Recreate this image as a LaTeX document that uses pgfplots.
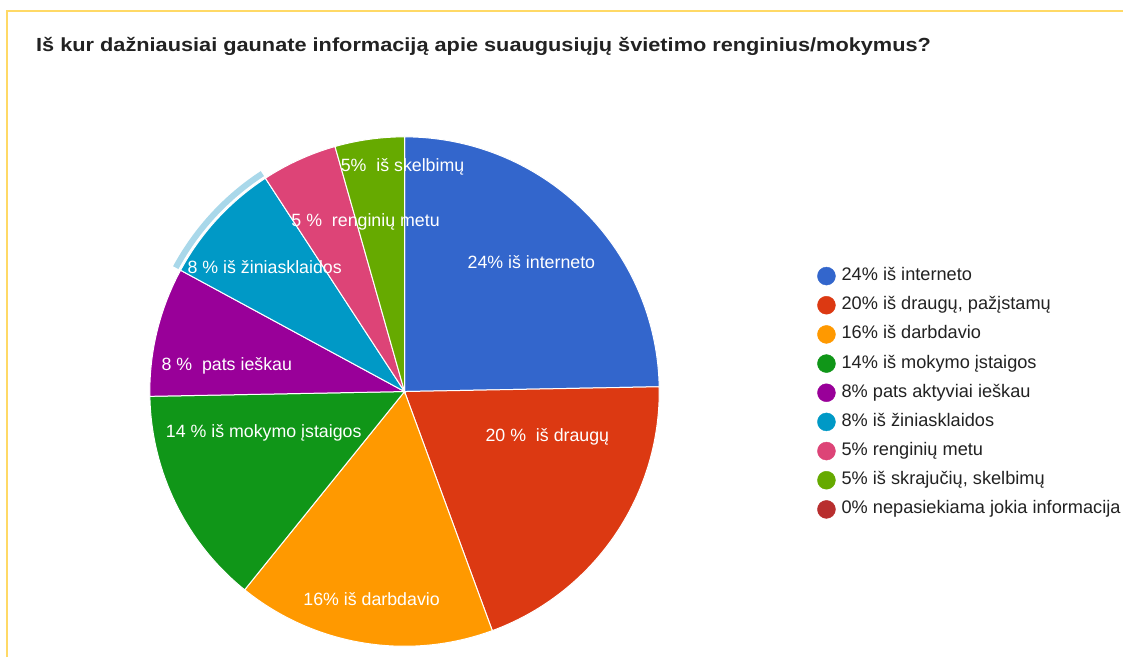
\documentclass[border=0pt]{standalone}
\usepackage{fontspec}
\setmainfont{Liberation Sans}
\usepackage{pgfplots}
\pgfplotsset{compat=1.18}
\definecolor{gblue}{HTML}{3366CC}
\definecolor{gred}{HTML}{DC3912}
\definecolor{gorange}{HTML}{FF9900}
\definecolor{ggreen}{HTML}{109618}
\definecolor{gpurple}{HTML}{990099}
\definecolor{gcyan}{HTML}{0099C6}
\definecolor{gpink}{HTML}{DD4477}
\definecolor{glime}{HTML}{66AA00}
\definecolor{gdred}{HTML}{B82E2E}
\definecolor{hl}{HTML}{A9D8EA}
\definecolor{framecol}{HTML}{FFD966}
\definecolor{txt}{HTML}{222222}
% slice shares (percent of the circle), clockwise from 12 o'clock
\def\piedata{{24.7,19.7,16.4,13.9,8.2,7.9,4.8,4.4}}
\begin{document}
\begin{tikzpicture}
\begin{axis}[
  width=1124pt, height=658pt, scale only axis,
  xmin=0, xmax=1124, ymin=0, ymax=658,
  hide axis, clip=false,
  legend cell align=left,
  legend style={at={(axis cs:815,393)}, anchor=north west, draw=none, fill=none,
    font=\fontsize{18.2}{21}\selectfont, text=txt,
    nodes={inner sep=0pt, text height=12.5pt, text depth=3.5pt},
    row sep=10.8pt, column sep=0pt},
]
\fill[white] (axis cs:0,0) rectangle (axis cs:1124,658);
\draw[framecol, line width=2.6pt] (axis cs:7,0) -- (axis cs:7,647) -- (axis cs:1124,647);
\pgfmathsetmacro\cum{0}
\pgfplotsforeachungrouped \i in {0,...,7}{
  \pgfmathsetmacro\p{\piedata[\i]}
  \pgfmathsetmacro\aS{90-3.6*\cum}
  \pgfmathsetmacro\cum{\cum+\p}
  \pgfmathsetmacro\aE{90-3.6*\cum}
  \edef\c{\ifcase\i gblue\or gred\or gorange\or ggreen\or gpurple\or gcyan\or gpink\or glime\fi}
  \ifnum\i=5 \let\hS\aS \let\hE\aE \fi
  \edef\doit{\noexpand\addplot[fill=\c, draw=white, line width=1pt, domain=\aE:\aS, samples=80, forget plot]
    ({405+255*cos(x)},{266+255*sin(x)}) -- (axis cs:405,266) -- cycle;}
  \doit
}
\edef\doit{\noexpand\addplot[hl, line width=6pt, domain=\hE:\hS, samples=40, forget plot]
    ({405+260.5*cos(x)},{266+260.5*sin(x)});}
\doit
\addlegendimage{legend image code/.code={\fill[gblue] (9pt,0pt) circle (9pt); \path (0pt,-9pt) (24pt,9pt);}}
\addlegendentry{24\% iš interneto}
\addlegendimage{legend image code/.code={\fill[gred] (9pt,0pt) circle (9pt); \path (0pt,-9pt) (24pt,9pt);}}
\addlegendentry{20\% iš draugų, pažįstamų}
\addlegendimage{legend image code/.code={\fill[gorange] (9pt,0pt) circle (9pt); \path (0pt,-9pt) (24pt,9pt);}}
\addlegendentry{16\% iš darbdavio}
\addlegendimage{legend image code/.code={\fill[ggreen] (9pt,0pt) circle (9pt); \path (0pt,-9pt) (24pt,9pt);}}
\addlegendentry{14\% iš mokymo įstaigos}
\addlegendimage{legend image code/.code={\fill[gpurple] (9pt,0pt) circle (9pt); \path (0pt,-9pt) (24pt,9pt);}}
\addlegendentry{8\% pats aktyviai ieškau}
\addlegendimage{legend image code/.code={\fill[gcyan] (9pt,0pt) circle (9pt); \path (0pt,-9pt) (24pt,9pt);}}
\addlegendentry{8\% iš žiniasklaidos}
\addlegendimage{legend image code/.code={\fill[gpink] (9pt,0pt) circle (9pt); \path (0pt,-9pt) (24pt,9pt);}}
\addlegendentry{5\% renginių metu}
\addlegendimage{legend image code/.code={\fill[glime] (9pt,0pt) circle (9pt); \path (0pt,-9pt) (24pt,9pt);}}
\addlegendentry{5\% iš skrajučių, skelbimų}
\addlegendimage{legend image code/.code={\fill[gdred] (9pt,0pt) circle (9pt); \path (0pt,-9pt) (24pt,9pt);}}
\addlegendentry{0\% nepasiekiama jokia informacija}
\begin{scope}[every node/.style={text=white, font=\fontsize{17.8}{21}\selectfont}]
\node at (axis cs:532,396) {24\% iš interneto};
\node at (axis cs:548,221) {20~\%~ iš draugų};
\node at (axis cs:372,58) {16\% iš darbdavio};
\node at (axis cs:264,225) {14~\% iš mokymo įstaigos};
\node at (axis cs:227,292) {8~\%~ pats ieškau};
\node at (axis cs:265,391) {8~\% iš žiniasklaidos};
\node at (axis cs:366,436) {5~\%~ renginių metu};
\node at (axis cs:403,491) {5\%~ iš skelbimų};
\end{scope}
\node[anchor=west, text=txt, font=\bfseries\fontsize{19}{22}\selectfont, inner sep=0pt] at (axis cs:36,612)
  {\scalebox{1.145}[1]{Iš kur dažniausiai gaunate informaciją apie suaugusiųjų švietimo renginius/mokymus?}};
\end{axis}
\end{tikzpicture}
\end{document}
